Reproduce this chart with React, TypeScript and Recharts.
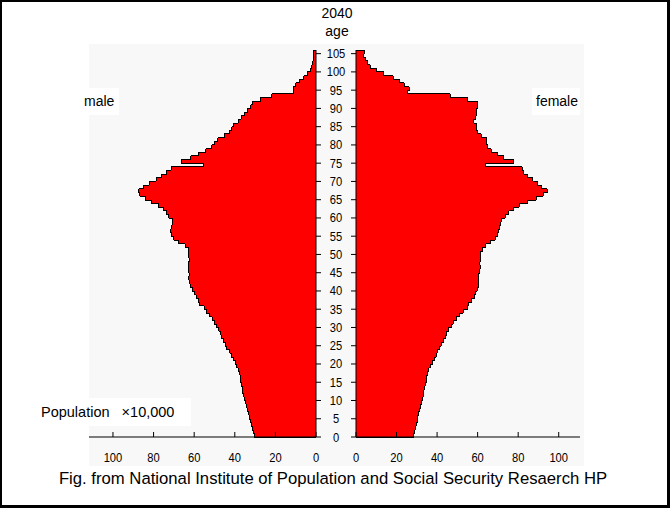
import React from 'react';
import { Bar, BarChart, XAxis, YAxis } from 'recharts';

// population in units of 10,000, index = age 0..105
const MALE = [
  30.5, 30.9, 31.3, 31.8, 32.4, 32.8, 33.2, 33.6, 34.2, 34.6,
  35.0, 35.5, 36.0, 36.4, 36.7, 37.0, 37.2, 37.5, 38.2, 39.0,
  39.8, 40.8, 41.8, 42.6, 44.0, 44.8, 45.6, 46.3, 47.0, 47.8,
  48.8, 50.0, 51.2, 52.5, 54.0, 55.0, 57.2, 58.0, 59.0, 59.8,
  61.0, 62.0, 62.2, 62.6, 62.4, 62.6, 63.0, 62.8, 62.4, 62.6,
  62.8, 63.0, 64.5, 67.5, 70.0, 71.0, 71.5, 71.2, 70.8, 70.8,
  72.4, 73.6, 75.2, 77.7, 80.9, 84.2, 86.7, 87.2, 85.1, 82.1,
  78.8, 76.0, 73.6, 71.4, 55.5, 66.3, 61.6, 58.0, 54.2, 51.4,
  49.8, 48.4, 45.2, 42.7, 41.5, 40.7, 38.3, 36.9, 35.3, 33.7,
  32.2, 31.2, 27.1, 21.8, 11.2, 11.2, 10.0, 7.9, 6.0, 4.2,
  2.9, 2.2, 1.7, 1.4, 1.2, 1.0
];

const FEMALE = [
  28.4, 28.8, 29.3, 29.8, 30.2, 30.5, 31.0, 31.4, 31.9, 32.4,
  32.9, 33.2, 33.4, 33.8, 34.2, 34.6, 35.0, 35.4, 36.0, 36.8,
  37.8, 38.8, 39.5, 40.0, 41.0, 42.0, 43.2, 44.0, 44.8, 45.8,
  47.0, 48.0, 49.5, 51.0, 53.0, 54.8, 55.5, 57.0, 58.4, 59.0,
  59.8, 60.2, 60.5, 60.6, 60.6, 61.0, 61.2, 61.0, 61.2, 61.4,
  61.6, 62.5, 64.0, 66.5, 68.8, 69.8, 70.5, 71.0, 71.4, 72.0,
  73.7, 75.3, 77.6, 80.6, 84.4, 88.8, 92.4, 94.4, 91.5, 89.4,
  87.3, 84.7, 82.7, 81.9, 63.8, 77.8, 72.9, 69.6, 66.6, 65.0,
  64.6, 64.6, 61.7, 59.7, 59.4, 59.4, 58.1, 59.1, 59.4, 59.4,
  59.7, 60.0, 54.8, 46.6, 25.5, 26.2, 23.9, 21.6, 18.3, 13.7,
  10.1, 7.1, 5.8, 4.6, 3.5, 4.1
];

const AGE_TICKS = [0, 5, 10, 15, 20, 25, 30, 35, 40, 45, 50, 55, 60, 65, 70, 75, 80, 85, 90, 95, 100, 105];
const POP_TICKS = [0, 20, 40, 60, 80, 100];

// oldest age first so it sits at the top of the vertical layout
const desc = MALE.map((m, age) => ({ age, male: m, female: FEMALE[age] })).reverse();
const rows = desc.map((d, i) => ({
  ...d,
  maleUp: i > 0 ? desc[i - 1].male : 0,
  maleDown: i < desc.length - 1 ? desc[i + 1].male : 0,
  femaleUp: i > 0 ? desc[i - 1].female : 0,
  femaleDown: i < desc.length - 1 ? desc[i + 1].female : 0
}));

const TOP = 50;
const AXIS_Y = 437;
const CHART_H = 480;
const MALE_LEFT = 89;
const MALE_RIGHT = 316;
const FEMALE_LEFT = 356;
const FEMALE_RIGHT = 580;
const FEMALE_CHART_X = 320;
const BAND = (AXIS_Y - TOP) / rows.length;
const FONT = "'Liberation Sans', Arial, sans-serif";

function StepBar(props: any) {
  const { x, y, width, height, payload, side } = props;
  const value = payload[side];
  if (!value || !width) return <g />;
  const left = Math.min(x, x + width);
  const w = Math.abs(width);
  const k = w / value;
  const dir = side === 'male' ? -1 : 1;
  const base = side === 'male' ? left + w : left;
  const outer = base + dir * w;
  const up = payload[side + 'Up'];
  const down = payload[side + 'Down'];
  return (
    <g shapeRendering='crispEdges'>
      <rect x={left} y={y} width={w} height={height} fill='#ff0000' />
      <line x1={outer} x2={outer} y1={y} y2={y + height} stroke='#000' />
      {up < value && (
        <line x1={outer} x2={base + dir * up * k} y1={y} y2={y} stroke='#000' />
      )}
      {down < value && (
        <line x1={outer} x2={base + dir * down * k} y1={y + height} y2={y + height} stroke='#000' />
      )}
    </g>
  );
}

function Digits({ x, y, value }: { x: number; y: number; value: number }) {
  const s = String(value);
  return (
    <text
      x={x}
      y={y}
      textAnchor='middle'
      dominantBaseline='central'
      fontFamily={FONT}
      fontSize={13}
      fill='#000'
      textLength={s.length * 6.2}
      lengthAdjust='spacingAndGlyphs'
    >
      {s}
    </text>
  );
}

function AgeTick(props: any) {
  const { y, payload, side } = props;
  if (!AGE_TICKS.includes(payload.value)) return <g />;
  const ty = y + BAND / 2;
  if (side === 'male') {
    return (
      <g>
        <line x1={MALE_RIGHT} x2={MALE_RIGHT + 5} y1={ty} y2={ty} stroke='#000' />
        <Digits x={(MALE_RIGHT + FEMALE_LEFT) / 2} y={ty} value={payload.value} />
      </g>
    );
  }
  const ax = FEMALE_LEFT - FEMALE_CHART_X;
  return <line x1={ax - 5} x2={ax} y1={ty} y2={ty} stroke='#000' />;
}

function PopTick(props: any) {
  const { x, payload } = props;
  return (
    <g>
      <line x1={x} x2={x} y1={AXIS_Y} y2={AXIS_Y - 5} stroke='#000' />
      <Digits x={x} y={AXIS_Y + 20} value={payload.value} />
    </g>
  );
}

const box = (left: number, top: number, width: number, height: number): React.CSSProperties => ({
  position: 'absolute',
  left,
  top,
  width,
  height,
  background: '#fff',
  fontFamily: FONT,
  fontSize: 14,
  lineHeight: height + 'px',
  whiteSpace: 'pre',
  color: '#000'
});

export default function App() {
  const maleW = MALE_RIGHT + 44;
  const femaleW = FEMALE_RIGHT - FEMALE_CHART_X;
  return (
    <div style={{ position: 'absolute', left: 0, top: 0, width: 670, height: 508, background: '#fff', overflow: 'hidden' }}>
      <div style={{ position: 'absolute', left: 89, top: 44, width: 495, height: 422, background: '#f8f8f8' }} />

      <div style={{ position: 'absolute', left: 0, top: 0 }}>
        <BarChart
          width={maleW}
          height={CHART_H}
          data={rows}
          layout='vertical'
          barCategoryGap={0}
          margin={{ top: TOP, right: 0, bottom: 0, left: MALE_LEFT }}
        >
          <XAxis
            type='number'
            domain={[0, 111.8]}
            reversed
            ticks={POP_TICKS}
            tick={(p: any) => <PopTick {...p} />}
            tickLine={false}
            axisLine={{ stroke: '#000' }}
            height={CHART_H - AXIS_Y}
            allowDataOverflow
          />
          <YAxis
            type='category'
            dataKey='age'
            orientation='right'
            width={44}
            interval={0}
            tick={(p: any) => <AgeTick {...p} side='male' />}
            tickLine={false}
            axisLine={{ stroke: '#000' }}
          />
          <Bar dataKey='male' isAnimationActive={false} shape={(p: any) => <StepBar {...p} side='male' />} />
        </BarChart>
      </div>

      <div style={{ position: 'absolute', left: FEMALE_CHART_X, top: 0 }}>
        <BarChart
          width={femaleW}
          height={CHART_H}
          data={rows}
          layout='vertical'
          barCategoryGap={0}
          margin={{ top: TOP, right: 0, bottom: 0, left: 0 }}
        >
          <XAxis
            type='number'
            domain={[0, 110.5]}
            ticks={POP_TICKS}
            tick={(p: any) => <PopTick {...p} />}
            tickLine={false}
            axisLine={{ stroke: '#000' }}
            height={CHART_H - AXIS_Y}
            allowDataOverflow
          />
          <YAxis
            type='category'
            dataKey='age'
            orientation='left'
            width={FEMALE_LEFT - FEMALE_CHART_X}
            interval={0}
            tick={(p: any) => <AgeTick {...p} side='female' />}
            tickLine={false}
            axisLine={{ stroke: '#000' }}
          />
          <Bar dataKey='female' isAnimationActive={false} shape={(p: any) => <StepBar {...p} side='female' />} />
        </BarChart>
      </div>

      <div style={{ ...box(300, 4, 74, 18), background: 'transparent', textAlign: 'center' }}>2040</div>
      <div style={{ ...box(300, 22, 74, 18), background: 'transparent', textAlign: 'center' }}>age</div>
      <div style={{ ...box(80, 88, 39, 27), paddingLeft: 4, boxSizing: 'border-box' }}>male</div>
      <div style={{ ...box(532, 88, 48, 27), paddingLeft: 4, boxSizing: 'border-box' }}>female</div>
      <div style={{ ...box(36, 398, 155, 28), fontSize: 14.5, paddingLeft: 5, boxSizing: 'border-box' }}>{'Population   \u00d710,000'}</div>
      <div style={{ ...box(0, 469, 666, 20), background: 'transparent', fontSize: 16.7, textAlign: 'center' }}>
        Fig. from National Institute of Population and Social Security Resaerch HP
      </div>

      <div style={{ position: 'absolute', inset: 0, border: '2px solid #000', borderRightWidth: 3, borderBottomWidth: 3, pointerEvents: 'none' }} />
    </div>
  );
}
